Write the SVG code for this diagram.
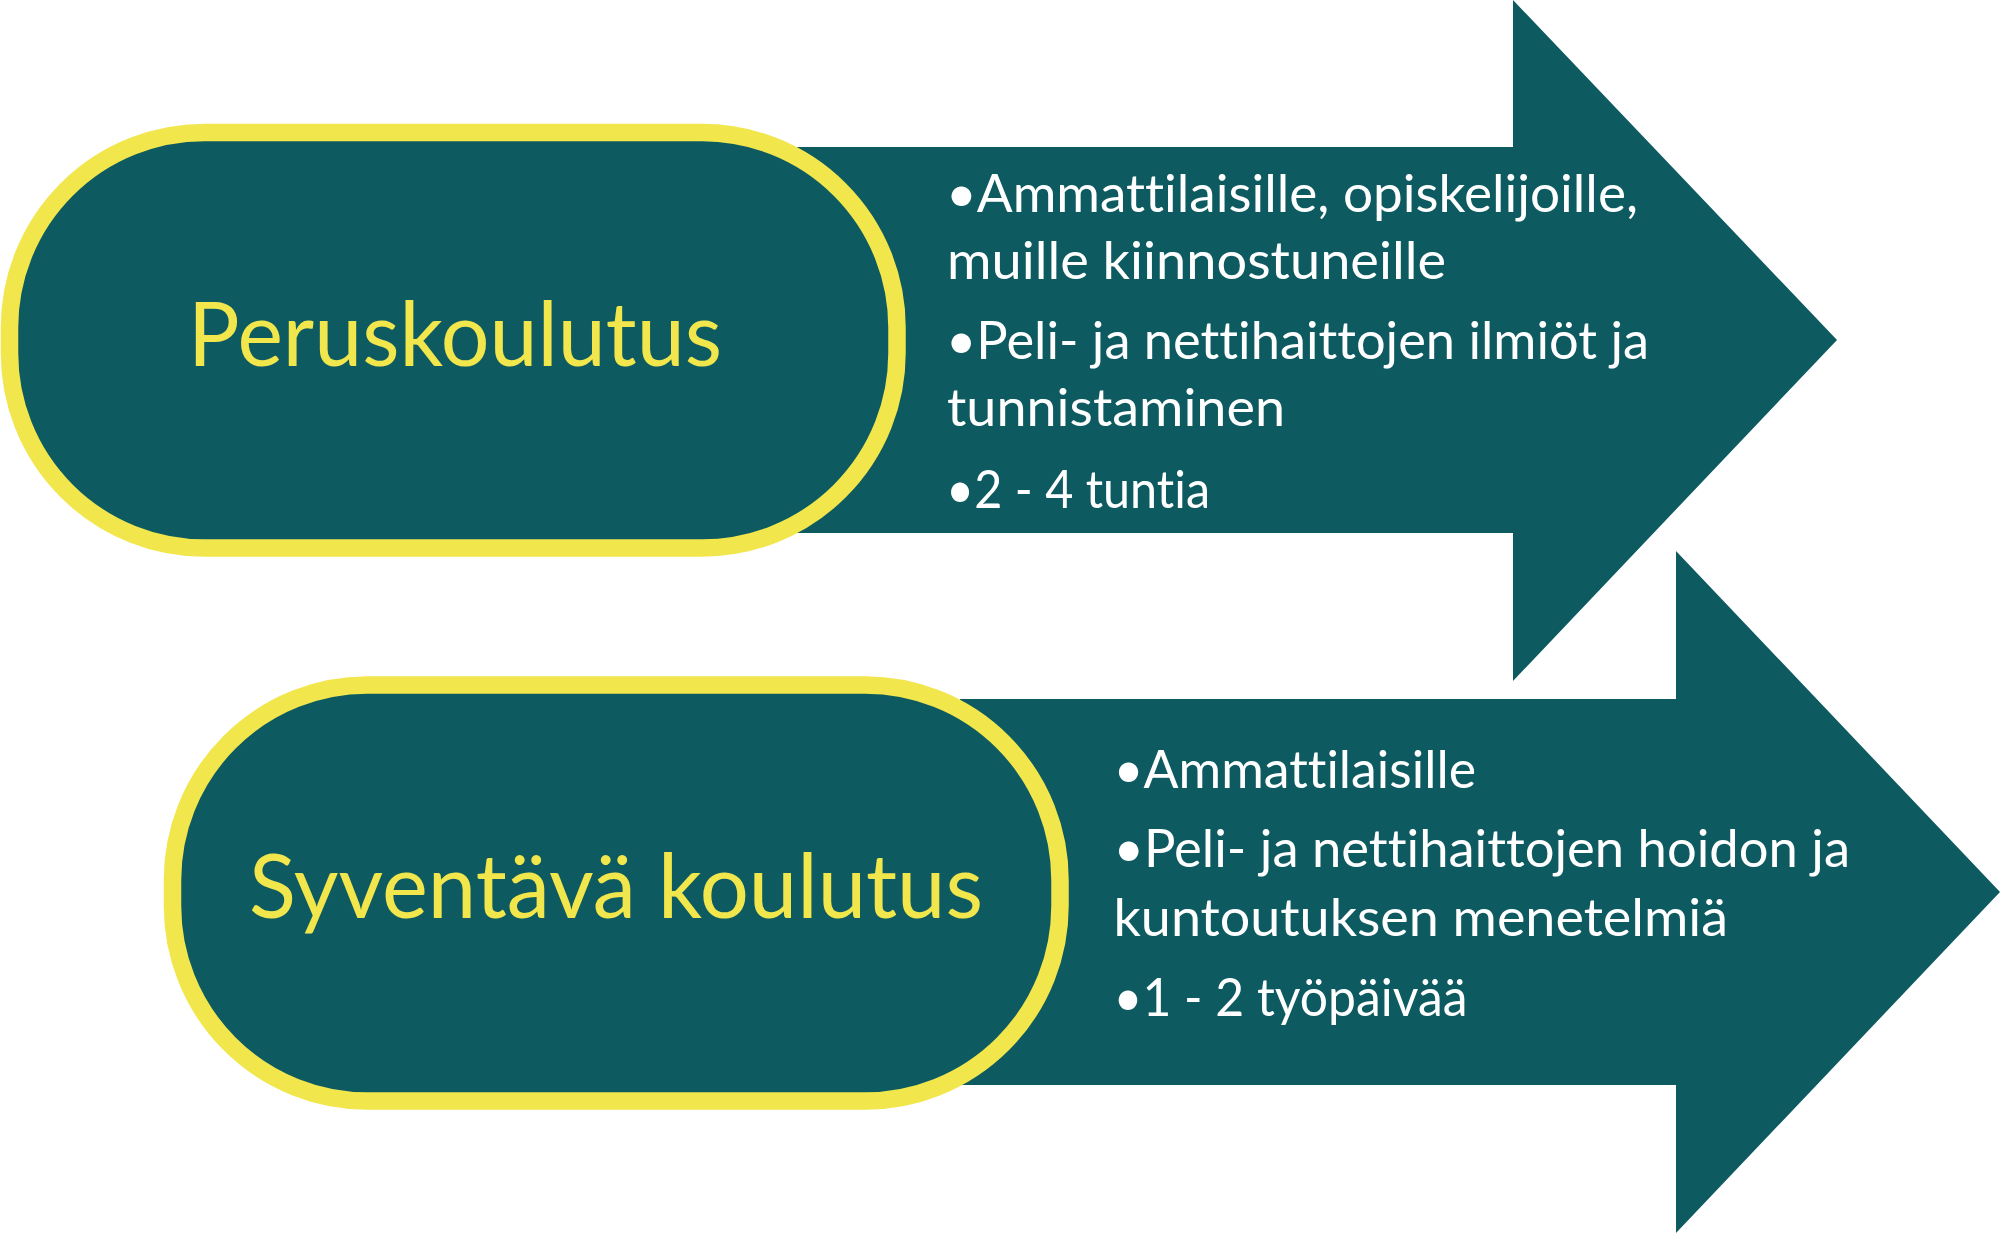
<svg xmlns="http://www.w3.org/2000/svg" width="2000" height="1233" viewBox="0 0 2000 1233">
<style>
.arrow{fill:#0d5a61}
.pill{fill:#0d5a61;stroke:#f1e64b;stroke-width:17.5}
text{font-variant-ligatures:none;font-feature-settings:"liga" 0,"clig" 0,"dlig" 0}
.title{font-family:Lato,"Open Sans","Liberation Sans",sans-serif;font-size:89px;fill:#f1e64b;text-anchor:middle}
.item{font-family:Lato,"Open Sans","Liberation Sans",sans-serif;font-size:53px;fill:#ffffff}
</style>
<rect width="2000" height="1233" fill="#ffffff"/>
<g id="connectors"/>
<g id="node-peruskoulutus">
<polygon class="arrow" points="797,147 1513,147 1513,0 1837,340 1513,681 1513,533 797,533"/>
<rect class="pill" x="9.5" y="132.5" width="887.5" height="415.5" rx="195" ry="195"/>
<text class="title" x="455" y="366" textLength="534" lengthAdjust="spacingAndGlyphs">Peruskoulutus</text>
<text class="item" x="946" y="212" textLength="692" lengthAdjust="spacingAndGlyphs">•Ammattilaisille, opiskelijoille,</text>
<text class="item" x="947" y="279" textLength="499" lengthAdjust="spacingAndGlyphs">muille kiinnostuneille</text>
<text class="item" x="946" y="359" textLength="703" lengthAdjust="spacingAndGlyphs">•Peli- ja nettihaittojen ilmiöt ja</text>
<text class="item" x="947" y="426" textLength="338" lengthAdjust="spacingAndGlyphs">tunnistaminen</text>
<text class="item" x="946" y="508" textLength="264" lengthAdjust="spacingAndGlyphs">•2 - 4 tuntia</text>
</g>
<g id="node-syventava">
<polygon class="arrow" points="960,699 1676,699 1676,551 2000,892 1676,1233 1676,1085 960,1085"/>
<rect class="pill" x="172.5" y="685" width="887.5" height="416" rx="195" ry="195"/>
<text class="title" x="616" y="918" textLength="734" lengthAdjust="spacingAndGlyphs">Syventävä koulutus</text>
<text class="item" x="1113.5" y="788" textLength="362.5" lengthAdjust="spacingAndGlyphs">•Ammattilaisille</text>
<text class="item" x="1113.5" y="867" textLength="736.5" lengthAdjust="spacingAndGlyphs">•Peli- ja nettihaittojen hoidon ja</text>
<text class="item" x="1113.5" y="936" textLength="614.5" lengthAdjust="spacingAndGlyphs">kuntoutuksen menetelmiä</text>
<text class="item" x="1113.5" y="1016" textLength="354" lengthAdjust="spacingAndGlyphs">•1 - 2 työpäivää</text>
</g>
</svg>
